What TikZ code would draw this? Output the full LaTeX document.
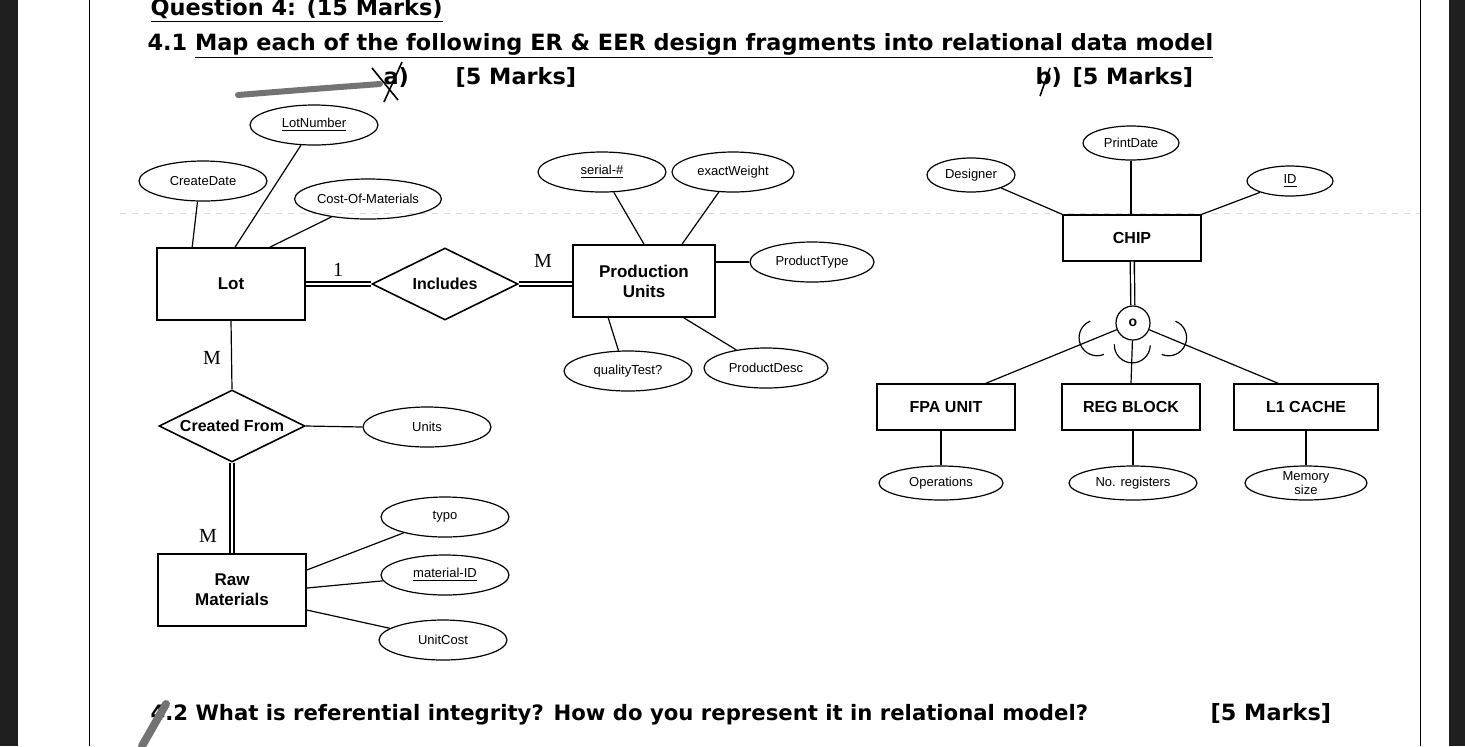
\documentclass[tikz,border=0pt]{standalone}
\usepackage{fontspec}
\setmainfont{Liberation Sans}
\newfontfamily\examfont{DejaVu Sans}
\newfontfamily\cardfont{Liberation Serif}
\usetikzlibrary{shapes.geometric, calc, decorations.markings}

\begin{document}
\begin{tikzpicture}[x=0.5pt, y=-0.5pt, semithick,
    entity/.style={draw, thick, rectangle, minimum width=74pt, minimum height=36pt, align=center, font=\fontsize{8.5}{10}\selectfont\bfseries},
    attrib/.style={draw, ellipse, minimum width=64pt, minimum height=20pt, inner sep=0.5pt, align=center, font=\fontsize{6.5}{7}\selectfont},
    relship/.style={draw, thick, diamond, aspect=2, minimum width=73pt, minimum height=36pt, inner sep=0pt, font=\fontsize{8}{10}\selectfont\bfseries},
    subclass/.style={draw, rectangle, minimum width=69pt, minimum height=23pt, font=\fontsize{8}{9}\selectfont\bfseries},
    card/.style={font=\cardfont\fontsize{10}{12}\selectfont},
    total/.style={double, line width=0.7pt, double distance=1.3pt},
    heading/.style={anchor=base west, inner sep=0pt, font=\examfont\bfseries\fontsize{11.2}{14}\selectfont},
    subset/.style={postaction={decorate, decoration={markings, mark=at position #1 with {\draw (0pt,9pt) arc[start angle=90, end angle=-90, radius=9pt];}}}}
]
\useasboundingbox (0,0) rectangle (1465,746);
\fill[black!88] (0,0) rectangle (18,746);
\fill[black!88] (1449,0) rectangle (1465,746);
\draw[thin] (89,0) -- (89,746);
\draw[thin] (1420,0) -- (1420,746);
\draw[thin, black!15, dashed] (120,213) -- (1420,213);% crease of the scan

% headings
\node[heading] (q4) at (150,15) {\underline{Question 4: (15 Marks)}};
\node[heading] (q41) at (147,50) {4.1 \underline{Map each of the following ER \& EER design fragments into relational data model}};
\node[heading] (la) at (383,84) {a)};
\node[heading] (ma) at (455,84) {[5 Marks]};
\node[heading] (lb) at (1035,84) {b)};
\node[heading] (mb) at (1072,84) {[5 Marks]};
\node[heading, font=\examfont\bfseries\fontsize{10.6}{13}\selectfont] (q42) at (150,720) {4.2 What is referential integrity? How do you represent it in relational model?};
\node[heading] (m42) at (1210,720) {[5 Marks]};
\draw[line width=3pt, black!55, line cap=round] (238,95) .. controls (300,90) .. (380,84);
\draw[thick] (372,68) -- (398,100);
\draw[thick] (402,62) -- (384,102);
\draw[thick] (1040,96) -- (1050,68);
\draw[line width=4pt, black!55, line cap=round] (142,746) -- (166,704);

% part a
\node[attrib] (lotnum) at (314,125) {\underline{LotNumber}};
\node[attrib] (cdate) at (203,181) {CreateDate};
\node[attrib, minimum width=66pt] (cost) at (368,199) {Cost-Of-Materials};
\node[entity] (lot) at (231,284) {Lot};
\node[relship] (incl) at (445,284) {Includes};
\node[entity, minimum width=71pt] (pu) at (644,281) {Production\\Units};
\node[attrib] (serial) at (602,172) {\underline{serial-\#}};
\node[attrib, minimum width=61pt] (weight) at (733,172) {exactWeight};
\node[attrib, minimum width=62pt] (ptype) at (812,262) {ProductType};
\node[attrib] (qtest) at (628,371) {qualityTest?};
\node[attrib, minimum width=62pt] (pdesc) at (766,368) {ProductDesc};
\node[relship] (cfrom) at (232,426) {Created From};
\node[attrib] (units) at (427,427) {Units};
\node[entity] (raw) at (232,590) {Raw\\Materials};
\node[attrib] (typo) at (445,517) {typo};
\node[attrib] (matid) at (445,575) {\underline{material-ID}};
\node[attrib] (ucost) at (443,640) {UnitCost};

\node[card] (c1) at (338,270) {1};
\node[card] (c2) at (543,261) {M};
\node[card] (c3) at (212,358) {M};
\node[card] (c4) at (208,536) {M};

\draw (cdate.255) -- ($(lot.north west)+(36,0)$);
\draw (lotnum) -- ($(lot.north)+(4,0)$);
\draw (cost) -- ($(lot.north east)+(-36,0)$);
\draw[total] (lot.east) -- (incl.west);
\draw[total] (incl.east) -- (incl.east -| pu.west);
\draw (serial) -- (pu.north);
\draw (weight) -- ($(pu.north)+(38,0)$);
\draw (ptype) -- (ptype -| pu.east);
\draw ($(pu.south west)+(36,0)$) -- (qtest.115);
\draw (pdesc) -- ($(pu.south east)+(-32,0)$);
\draw (lot.south) -- (cfrom.north);
\draw[total] (cfrom.south) -- (raw.north);
\draw (cfrom.east) -- (units.west);
\draw (typo) -- ($(raw.east)+(0,-20)$);
\draw (matid) -- ($(raw.east)+(0,-2)$);
\draw (ucost) -- ($(raw.east)+(0,20)$);

% part b
\node[attrib, minimum width=48pt, minimum height=17pt] (pdate) at (1131,143) {PrintDate};
\node[attrib, minimum width=44pt, minimum height=17pt] (dsgn) at (971,175) {Designer};
\node[attrib, minimum width=43pt, minimum height=15pt] (chipid) at (1290,181) {\underline{ID}};
\node[subclass] (chip) at (1132,238) {CHIP};
\node[draw, circle, minimum size=17pt, inner sep=0pt, font=\fontsize{7}{8}\selectfont\bfseries] (disj) at (1133,323) {o};
\node[subclass] (fpa) at (946,407) {FPA UNIT};
\node[subclass] (reg) at (1131,407) {REG BLOCK};
\node[subclass, minimum width=72pt] (cache) at (1306,407) {L1 CACHE};
\node[attrib, minimum width=62pt, minimum height=17pt] (ops) at (941,483) {Operations};
\node[attrib, minimum height=17pt] (nreg) at (1133,483) {No. registers};
\node[attrib, minimum width=61pt, minimum height=17pt, inner sep=0pt] (msize) at (1306,483) {Memory\\size};

\draw (dsgn) -- (chip.north west);
\draw (pdate) -- (pdate |- chip.north);
\draw (chipid) -- (chip.north east);
\draw[total] (chip) -- (disj);
\draw[subset=0.15] (disj) -- ($(fpa.north east)+(-30,0)$);
\draw[subset=0.1] (disj) -- (reg.north);
\draw[subset=0.15] (disj) -- ($(cache.north west)+(45,0)$);
\draw (fpa.south -| ops) -- (ops);
\draw (reg.south -| nreg) -- (nreg);
\draw (cache) -- (msize);
\end{tikzpicture}
\end{document}
